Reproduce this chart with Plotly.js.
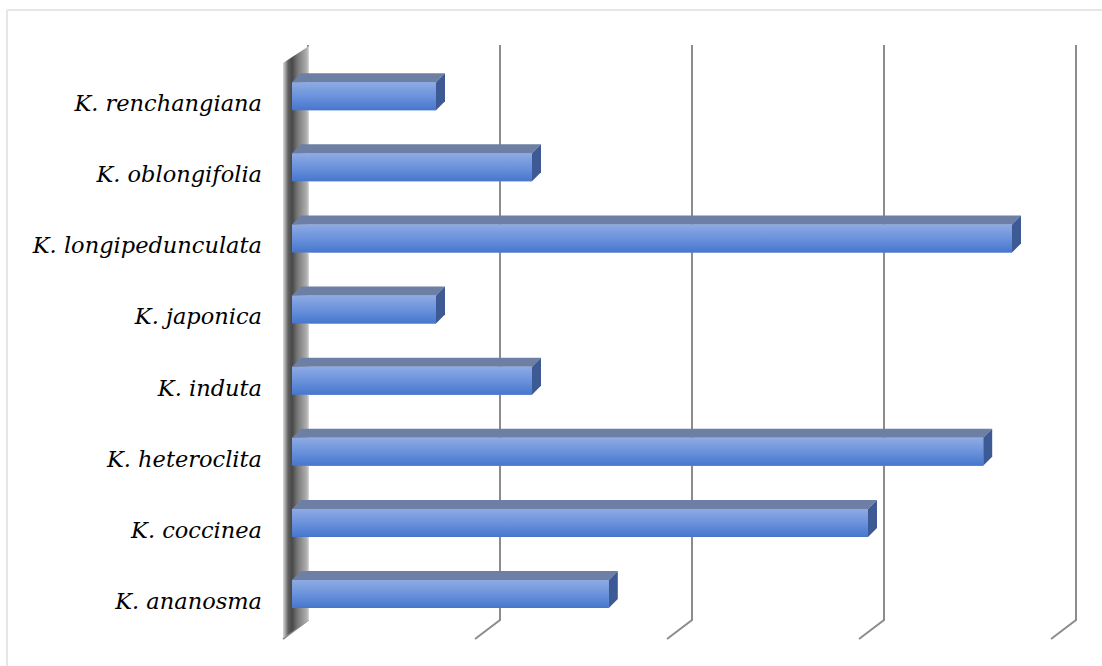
<!DOCTYPE html>
<html>
<head>
<meta charset="utf-8">
<script src="https://cdn.plot.ly/plotly-3.0.1.min.js"></script>
<style>html,body{margin:0;padding:0;background:#fff;}#chart{width:1102px;height:666px;}</style>
</head>
<body>
<div id="chart"></div>
<script>
// ---- data (bottom to top) ----
const categories = ['K. ananosma','K. coccinea','K. heteroclita','K. induta','K. japonica','K. longipedunculata','K. oblongifolia','K. renchangiana'];
const values = [33, 60, 72, 25, 15, 75, 25, 15];
const gridValues = [0, 20, 40, 60, 80];

// ---- geometry helpers (axis units per pixel) ----
const W = 1102, H = 666;
const mL = 270, mR = 12, mT = 30, mB = 16;
const xRange = [-2.2917, 83.125];
const yRange = [-0.7876, 7.932];
const pw = W - mL - mR, ph = H - mT - mB;
const ux = (xRange[1] - xRange[0]) / pw;
const uy = (yRange[1] - yRange[0]) / ph;
const dx = p => p * ux;
const dy = p => p * uy;
const yAtPx = p => yRange[1] - (p - mT) * uy;
const px2paperX = p => (p - mL) / pw;
const px2paperY = p => (H - mB - p) / ph;

const traces = [];

gridValues.forEach(g => {
  const xb = g + dx(16);
  traces.push({
    type: 'scatter', mode: 'lines', hoverinfo: 'skip', showlegend: false,
    x: [xb, xb, xb - dx(25)],
    y: [yAtPx(45), yAtPx(620), yAtPx(639)],
    line: {color: '#8c8c8c', width: 2}
  });
});

traces.push({
  type: 'scatter', mode: 'lines', hoverinfo: 'skip', showlegend: false,
  x: [dx(-9), dx(17), dx(17), dx(-9), dx(-9)],
  y: [yAtPx(63), yAtPx(46), yAtPx(620), yAtPx(638), yAtPx(63)],
  fill: 'toself',
  fillcolor: '#808080',
  fillgradient: {type: 'horizontal', colorscale: [[0,'#d8d8d8'],[0.07,'#b0b0b0'],[0.2,'#606060'],[0.35,'#484848'],[0.55,'#767676'],[0.75,'#969696'],[0.92,'#b2b2b2'],[1,'#dcdcdc']]},
  line: {color: 'rgba(0,0,0,0)', width: 0}
});

const halfH = dy(14);
traces.push({
  type: 'bar', orientation: 'h', showlegend: false, hoverinfo: 'skip',
  x: values, y: categories.map((c, i) => i),
  width: 2 * halfH,
  marker: {color: '#6a8fd6', line: {width: 0}}
});

values.forEach((v, i) => {
  const yT = i + halfH, yB = i - halfH;
  const ddx = dx(9), ddy = dy(9);
  traces.push({
    type: 'scatter', mode: 'lines', hoverinfo: 'skip', showlegend: false,
    x: [0, v, v + ddx, ddx, 0], y: [yT, yT, yT + ddy, yT + ddy, yT],
    fill: 'toself', fillcolor: '#6e7fa6', line: {width: 0, color: 'rgba(0,0,0,0)'}
  });
  traces.push({
    type: 'scatter', mode: 'lines', hoverinfo: 'skip', showlegend: false,
    x: [v, v, v + ddx, v + ddx, v], y: [yB, yT, yT + ddy, yB + ddy, yB],
    fill: 'toself', fillcolor: '#3e5a94', line: {width: 0, color: 'rgba(0,0,0,0)'}
  });
  traces.push({
    type: 'scatter', mode: 'lines', hoverinfo: 'skip', showlegend: false,
    x: [0, v, v, 0, 0], y: [yB, yB, yT, yT, yB],
    fill: 'toself', fillcolor: '#6a8fd6',
    fillgradient: {type: 'vertical', colorscale: [[0,'#4676cc'],[0.5,'#6b92dc'],[1,'#8eabe3']]},
    line: {width: 0, color: 'rgba(0,0,0,0)'}
  });
});

const layout = {
  width: W, height: H,
  margin: {l: mL, r: mR, t: mT, b: mB},
  paper_bgcolor: '#ffffff', plot_bgcolor: 'rgba(0,0,0,0)',
  showlegend: false,
  xaxis: {range: xRange, showgrid: false, zeroline: false, showticklabels: false, ticks: '', showline: false, fixedrange: true},
  yaxis: {
    range: yRange, showgrid: false, zeroline: false, showline: false, ticks: '',
    tickvals: categories.map((c, i) => i - dy(7)), ticktext: categories,
    tickfont: {family: 'DejaVu Serif', size: 22.5, color: '#000000', style: 'italic'},
    ticklabelstandoff: 7, automargin: false, fixedrange: true
  },
  shapes: [
    {type: 'line', xref: 'paper', yref: 'paper', x0: px2paperX(7), x1: px2paperX(1102), y0: px2paperY(10), y1: px2paperY(10), line: {color: '#e6e6e6', width: 2}},
    {type: 'line', xref: 'paper', yref: 'paper', x0: px2paperX(7), x1: px2paperX(7), y0: px2paperY(10), y1: px2paperY(666), line: {color: '#e6e6e6', width: 2}}
  ]
};

Plotly.newPlot('chart', traces, layout, {displayModeBar: false, staticPlot: true});
</script>
</body>
</html>
